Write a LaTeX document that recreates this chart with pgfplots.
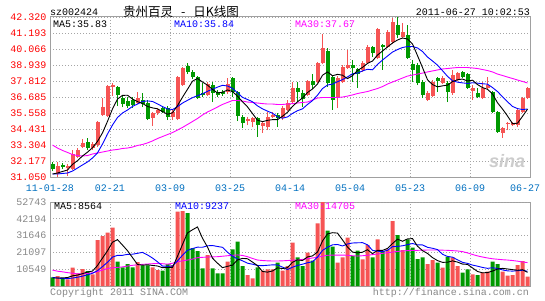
\documentclass[border=0pt]{standalone}
\usepackage{pgfplots}
\pgfplotsset{compat=1.18}
\usepackage{pgfplotstable}
\usepackage{fontspec}
\setmainfont{Liberation Mono}
\newfontfamily\cjk{Noto Sans CJK SC}
\newfontfamily\sansf{Liberation Sans}
\definecolor{kred}{RGB}{246,84,84}
\definecolor{kgreen}{RGB}{0,153,0}
\definecolor{pricered}{RGB}{255,0,0}
\definecolor{dateblue}{RGB}{0,112,192}
\definecolor{framegray}{RGB}{160,160,160}
\definecolor{gridgray}{RGB}{165,165,165}
\definecolor{volgray}{RGB}{136,136,136}
\definecolor{mablue}{RGB}{0,0,255}
\definecolor{mamag}{RGB}{255,0,255}

\pgfplotstableread{
i o h l c
1 31.26 32.11 31.05 31.82
3 31.68 31.97 31.12 31.82
4 31.61 32.95 31.54 32.67
5 32.46 33.09 32.39 32.95
6 33.16 33.73 33.09 33.45
8 33.09 33.52 32.95 33.37
9 33.30 34.99 33.16 34.92
10 35.42 36.61 35.35 35.98
11 35.35 37.53 35.28 37.46
12 37.39 37.67 36.76 37.53
17 36.26 37.04 36.19 36.61
20 35.21 35.63 34.64 35.56
21 35.56 35.91 35.42 35.77
24 35.28 35.77 35.06 35.63
25 35.14 38.16 35.06 38.09
26 37.53 38.80 37.46 38.73
31 36.83 37.74 36.76 37.60
35 37.04 38.02 36.90 37.60
39 34.99 35.28 34.71 35.14
40 34.92 35.28 34.57 35.21
42 34.64 34.99 34.15 34.85
43 34.57 35.63 34.36 35.28
44 35.28 35.63 35.21 35.42
46 35.21 36.05 35.06 35.91
47 35.77 36.47 35.70 36.26
48 36.33 37.74 36.26 37.32
51 36.83 37.88 36.76 37.81
53 37.74 39.15 37.67 39.08
54 39.08 41.12 39.01 40.14
57 36.61 38.16 35.91 38.02
58 37.74 38.94 37.67 38.80
59 38.73 39.99 38.66 38.94
62 38.59 39.22 38.45 39.08
63 39.08 40.35 39.01 40.21
65 39.43 41.54 39.36 41.47
67 40.21 41.40 40.14 41.26
68 40.56 42.25 40.42 41.97
70 40.91 41.90 40.84 41.26
75 36.47 37.11 36.40 36.97
76 36.76 37.88 36.68 37.74
78 37.67 38.16 37.60 38.02
80 36.97 38.59 36.83 38.23
81 37.88 38.45 37.81 38.37
84 37.11 37.53 36.47 37.32
86 36.61 37.74 36.54 37.32
87 37.32 38.09 37.18 37.53
90 34.15 34.57 33.80 34.50
91 34.78 34.92 34.36 34.85
92 34.71 34.92 34.64 34.85
93 34.71 35.84 34.57 35.77
94 35.63 36.68 35.56 36.61
95 36.61 37.39 36.54 37.32
}\cred

\pgfplotstableread{
i o h l c
0 31.97 32.11 31.47 31.61
2 31.90 32.04 31.61 31.75
7 33.52 33.80 32.95 33.09
13 37.39 37.46 36.05 36.83
14 36.61 36.83 35.98 36.19
15 36.40 36.68 35.91 36.05
16 36.47 36.68 35.91 36.12
18 36.47 36.97 35.98 36.19
19 36.26 36.47 35.06 35.14
22 35.91 36.05 35.56 35.63
23 35.91 36.05 35.06 35.28
27 38.87 39.08 38.30 38.45
28 38.45 38.59 37.95 38.09
29 38.09 38.16 36.54 36.61
30 36.97 37.67 36.68 36.83
32 37.53 37.74 36.33 36.97
33 37.04 37.18 36.68 36.83
34 37.04 37.18 36.76 36.90
36 38.02 38.09 36.68 37.04
37 37.04 37.11 34.99 35.35
38 35.28 35.42 34.50 34.85
41 35.21 35.28 33.87 34.71
45 35.42 35.56 34.57 35.21
49 37.32 37.74 36.33 37.04
50 36.97 37.18 35.98 36.54
52 37.81 38.30 37.25 37.53
55 39.92 40.14 37.39 37.67
56 38.09 38.16 35.77 36.47
60 38.94 39.29 37.74 38.73
61 38.66 38.73 37.32 38.30
64 40.21 40.28 39.50 39.78
66 40.35 40.42 38.59 40.21
69 41.76 42.32 40.84 41.05
71 41.05 41.76 39.36 39.43
72 39.01 39.29 37.74 38.59
73 38.94 39.08 37.53 37.67
74 37.74 37.88 36.61 36.83
77 38.02 38.09 37.04 37.81
79 37.67 37.81 36.33 37.04
82 38.45 38.52 38.02 38.09
83 38.30 38.37 37.25 37.32
85 36.97 37.32 36.61 36.68
88 37.04 37.11 35.56 35.63
89 35.63 35.70 34.15 34.22
}\cgreen

\pgfplotstableread{
i ma5 ma10 ma30
0 31.26 31.26 33.30
1 31.33 31.26 33.09
2 31.44 31.30 32.92
3 31.54 31.33 32.78
4 31.94 31.47 32.63
5 32.20 31.68 32.56
6 32.53 31.90 32.53
7 32.80 32.11 32.56
8 33.11 32.39 32.67
9 33.56 32.75 32.74
10 34.16 33.37 32.81
11 34.97 34.08 32.88
12 35.85 34.71 32.95
13 36.54 35.24 32.99
14 36.80 35.56 33.06
15 36.81 35.77 33.09
16 36.54 36.02 33.16
17 36.36 36.19 33.27
18 36.23 36.37 33.34
19 36.02 36.41 33.45
20 35.92 36.37 33.59
21 35.85 36.20 33.76
22 35.66 36.01 33.90
23 35.47 35.85 34.04
24 35.57 35.80 34.18
25 36.08 36.00 34.36
26 36.67 36.26 34.54
27 37.23 36.45 34.75
28 37.80 36.64 34.96
29 37.99 36.78 35.17
30 37.74 36.91 35.42
31 37.52 37.09 35.63
32 37.22 37.23 35.80
33 36.97 37.38 35.98
34 37.02 37.51 36.16
35 37.18 37.46 36.30
36 37.07 37.29 36.44
37 36.74 36.98 36.44
38 36.35 36.66 36.40
39 35.99 36.51 36.33
40 35.52 36.35 36.30
41 35.05 36.06 36.26
42 34.95 35.85 36.22
43 35.04 35.69 36.19
44 35.09 35.54 36.19
45 35.09 35.30 36.16
46 35.33 35.19 36.16
47 35.61 35.28 36.19
48 36.02 35.53 36.22
49 36.35 35.72 36.26
50 36.61 35.85 36.30
51 37.00 36.16 36.33
52 37.25 36.43 36.47
53 37.60 36.81 36.61
54 38.22 37.28 36.65
55 38.45 37.53 36.65
56 38.18 37.59 36.65
57 38.28 37.76 36.65
58 38.22 37.91 36.68
59 37.98 38.10 36.75
60 38.19 38.32 36.83
61 38.56 38.37 36.93
62 38.77 38.52 37.00
63 39.05 38.64 37.07
64 39.22 38.60 37.18
65 39.64 38.98 37.28
66 39.92 39.29 37.42
67 40.21 39.57 37.60
68 40.49 39.85 37.74
69 40.70 40.03 37.88
70 40.84 40.17 38.02
71 40.77 40.24 38.16
72 40.42 40.24 38.23
73 39.60 40.14 38.30
74 38.76 39.89 38.37
75 37.90 39.50 38.45
76 37.56 39.22 38.52
77 37.40 38.93 38.59
78 37.47 38.54 38.66
79 37.52 38.14 38.69
80 37.77 37.83 38.73
81 37.90 37.73 38.76
82 37.95 37.68 38.76
83 37.81 37.64 38.76
84 37.87 37.69 38.73
85 37.56 37.66 38.69
86 37.35 37.62 38.62
87 37.23 37.59 38.55
88 36.90 37.35 38.45
89 36.28 37.07 38.30
90 35.84 36.70 38.20
91 35.35 36.35 38.09
92 34.81 36.02 37.99
93 34.84 35.87 37.88
94 35.32 35.80 37.78
95 35.83 35.84 37.67
}\pma

\pgfplotstableread{
i v
1 6279
3 4207
4 11491
5 7974
6 10674
8 7346
9 28883
10 31395
11 33467
12 36607
17 15070
20 11742
21 10046
24 13186
25 46653
26 47093
31 19465
35 15258
39 6907
40 4835
42 9607
43 10486
44 10486
46 9607
47 12558
48 27188
51 20909
53 39369
54 52700
57 14630
58 18021
59 30328
62 16765
63 25744
65 29323
67 23044
68 40814
70 22604
75 13814
76 16325
78 11491
80 18021
81 12558
84 7346
86 8351
87 8979
90 8979
91 6467
92 6907
93 13186
94 15698
95 5839
}\vred

\pgfplotstableread{
i v
0 5463
2 4395
7 9419
13 15258
14 11742
15 13814
16 11742
18 12998
19 12998
22 9607
23 13814
27 45837
28 23860
29 21977
30 11114
32 11114
33 7974
34 7974
36 23044
37 27816
38 12558
41 11742
45 14630
49 18021
50 12558
52 15886
55 34723
56 24676
60 18837
61 22165
64 18021
66 21977
69 32023
71 29323
72 24049
73 16953
74 18021
77 14630
79 18397
82 8351
83 10486
85 6907
88 15258
89 13814
}\vgreen

\pgfplotstableread{
i m5 m10 m30
0 5000 5400 10000
1 5000 5000 9300
2 5100 4700 8900
3 5300 4600 8400
4 6367 5000 8000
5 6869 5500 7600
6 7748 6200 7600
7 8753 7000 7900
8 9381 8000 8300
9 12859 9613 9000
10 17543 12206 10000
11 22102 14925 11000
12 27540 18146 11400
13 29122 19251 11700
14 25694 19277 12000
15 22178 19861 12500
16 17833 19967 13000
17 13525 20532 13300
18 13073 21098 13600
19 13324 19509 13800
20 12910 17544 14000
21 12571 15202 14200
22 11478 12502 14000
23 11641 12357 13700
24 11679 12502 14300
25 18661 15786 15200
26 26071 19321 15800
27 33317 22397 16300
28 35326 23484 16900
29 37084 24382 17800
30 29976 24319 18000
31 24451 25261 18200
32 17506 25411 18300
33 14329 24827 18400
34 11528 24306 18700
35 12357 21167 19000
36 13073 18762 19300
37 16413 16960 19500
38 17330 15829 19200
39 17117 14322 18400
40 15032 13695 17300
41 12772 12922 16300
42 9130 12772 16000
43 8715 13023 15800
44 9431 13274 15700
45 11390 13211 15700
46 10963 11867 15800
47 11553 10342 16000
48 14894 11805 16200
49 16401 12916 16300
50 15986 13688 16700
51 18247 14605 17100
52 18912 15233 17600
53 21349 18121 18000
54 28284 22343 18700
55 32717 24352 19300
56 33471 25859 19400
57 33220 26066 19400
58 28950 25149 19400
59 24476 26380 19300
60 21298 27008 19000
61 20796 27134 18800
62 21223 27221 19000
63 22768 25859 19300
64 20306 22391 19700
65 22404 21851 20100
66 22366 21581 20500
67 23622 22423 20900
68 26636 24702 21300
69 29436 24871 21700
70 28092 25248 22000
71 29562 25964 22200
72 29763 26692 22300
73 24990 25813 22400
74 22190 25813 22500
75 20432 24262 22600
76 17832 23697 22600
77 15949 22856 22600
78 14856 19923 22500
79 14931 18561 22400
80 15773 18102 22200
81 15019 16426 22000
82 13764 14856 21600
83 13563 14209 20800
84 11352 13142 19800
85 9130 12451 18900
86 8288 11654 18200
87 8414 11089 17600
88 9368 11465 17100
89 10662 11007 16800
90 11076 10103 16500
91 10699 9494 16300
92 10285 9349 16000
93 9871 9619 15600
94 10247 9900 15100
95 8564 9237 14705
}\vma

\pgfplotsset{kbase/.style={
  scale only axis, width=480pt, xmin=-0.5, xmax=95.5,
  anchor=south west,
  axis line style={framegray, line width=1pt},
  grid=major, grid style={gridgray, line width=0.8pt, dash pattern=on 1pt off 2pt},
  major tick length=0pt, tick style={draw=none},
  xtick={-0.5,11.5,23.5,35.5,47.5,59.5,71.5,83.5},
  ticklabel style={font=\fontsize{10}{12}\selectfont},
}}

\begin{document}
\begin{tikzpicture}
\useasboundingbox (0,0) rectangle (545pt,300pt);
\fill[white] (0,0) rectangle (545pt,300pt);

% ---------- price panel ----------
\begin{axis}[kbase, at={(50pt,123pt)}, height=160pt,
  ymin=31.05, ymax=42.32,
  ytick={31.05,32.177,33.304,34.431,35.558,36.685,37.812,38.939,40.066,41.193,42.32},
  yticklabels={31.050,32.177,33.304,34.431,35.558,36.685,37.812,38.939,40.066,41.193,42.320},
  yticklabel style={text=pricered},
  xticklabels={11-01-28,02-21,03-09,03-25,04-14,05-04,05-23,06-09},
  extra x ticks={94.5}, extra x tick labels={06-27},
  extra x tick style={grid=none},
  xticklabel style={text=dateblue, yshift=-4pt},
]
% wicks
\addplot[draw=none, mark=none, forget plot, error bars/.cd, y dir=plus, y explicit, error mark=none,
  error bar style={draw=kred, line width=1pt}]
  table[x=i, y=l, y error expr=\thisrow{h}-\thisrow{l}] {\cred};
\addplot[draw=none, mark=none, forget plot, error bars/.cd, y dir=plus, y explicit, error mark=none,
  error bar style={draw=kgreen, line width=1pt}]
  table[x=i, y=l, y error expr=\thisrow{h}-\thisrow{l}] {\cgreen};
% bodies
\addplot[draw=none, mark=none, forget plot, error bars/.cd, y dir=plus, y explicit, error mark=none,
  error bar style={draw=kred, line width=4pt}]
  table[x=i, y=o, y error expr=\thisrow{c}-\thisrow{o}] {\cred};
\addplot[draw=none, mark=none, forget plot, error bars/.cd, y dir=plus, y explicit, error mark=none,
  error bar style={draw=kgreen, line width=4pt}]
  table[x=i, y=c, y error expr=\thisrow{o}-\thisrow{c}] {\cgreen};
% moving averages
\addplot[mamag, line width=0.9pt, mark=none] table[x=i, y=ma30] {\pma};
\addplot[mablue, line width=0.9pt, mark=none] table[x=i, y=ma10] {\pma};
\addplot[black, line width=0.9pt, mark=none] table[x=i, y=ma5] {\pma};
\end{axis}

% ---------- volume panel ----------
\begin{axis}[kbase, at={(50pt,14pt)}, height=84pt,
  ymin=0, ymax=52743, scaled y ticks=false,
  ytick={10549,21097,31646,42194},
  yticklabels={10549,21097,31646,42194},
  extra y ticks={52743}, extra y tick labels={52743},
  yticklabel style={text=volgray},
  xticklabels={},
]
\addplot[ybar, bar width=4pt, bar shift=0pt, fill=kred, draw=none] table[x=i, y=v] {\vred};
\addplot[ybar, bar width=4pt, bar shift=0pt, fill=kgreen, draw=none] table[x=i, y=v] {\vgreen};
\addplot[mamag, line width=0.9pt, mark=none] table[x=i, y=m30] {\vma};
\addplot[mablue, line width=0.9pt, mark=none] table[x=i, y=m10] {\vma};
\addplot[black, line width=0.9pt, mark=none] table[x=i, y=m5] {\vma};
\end{axis}

% ---------- texts ----------
\begin{scope}[every node/.style={font=\fontsize{10}{12}\selectfont, inner sep=0pt}]
\node[anchor=west] at (50pt,288pt) {sz002424};
\node[font=\cjk\fontsize{12.5}{14}\selectfont] at (181pt,288pt) {贵州百灵\hspace{8pt}-\hspace{8pt}日K线图};
\node[anchor=east] at (530pt,288pt) {2011-06-27 10:02:53};
\node[anchor=west] at (53pt,276pt) {MA5:35.83};
\node[anchor=west, text=mablue] at (174pt,276pt) {MA10:35.84};
\node[anchor=west, text=mamag] at (295pt,276pt) {MA30:37.67};
\node[anchor=west] at (54pt,94pt) {MA5:8564};
\node[anchor=west, text=mablue] at (175pt,94pt) {MA10:9237};
\node[anchor=west, text=mamag] at (295pt,94pt) {MA30:14705};
\node[anchor=west, text=volgray] at (50pt,7pt) {Copyright 2011 SINA.COM};
\node[anchor=east, text=volgray] at (529pt,7pt) {http://finance.sina.com.cn};
\node[text=gray!40, font=\sansf\bfseries\itshape\fontsize{18}{20}\selectfont] at (507pt,139pt) {sina};
\end{scope}
\end{tikzpicture}
\end{document}
